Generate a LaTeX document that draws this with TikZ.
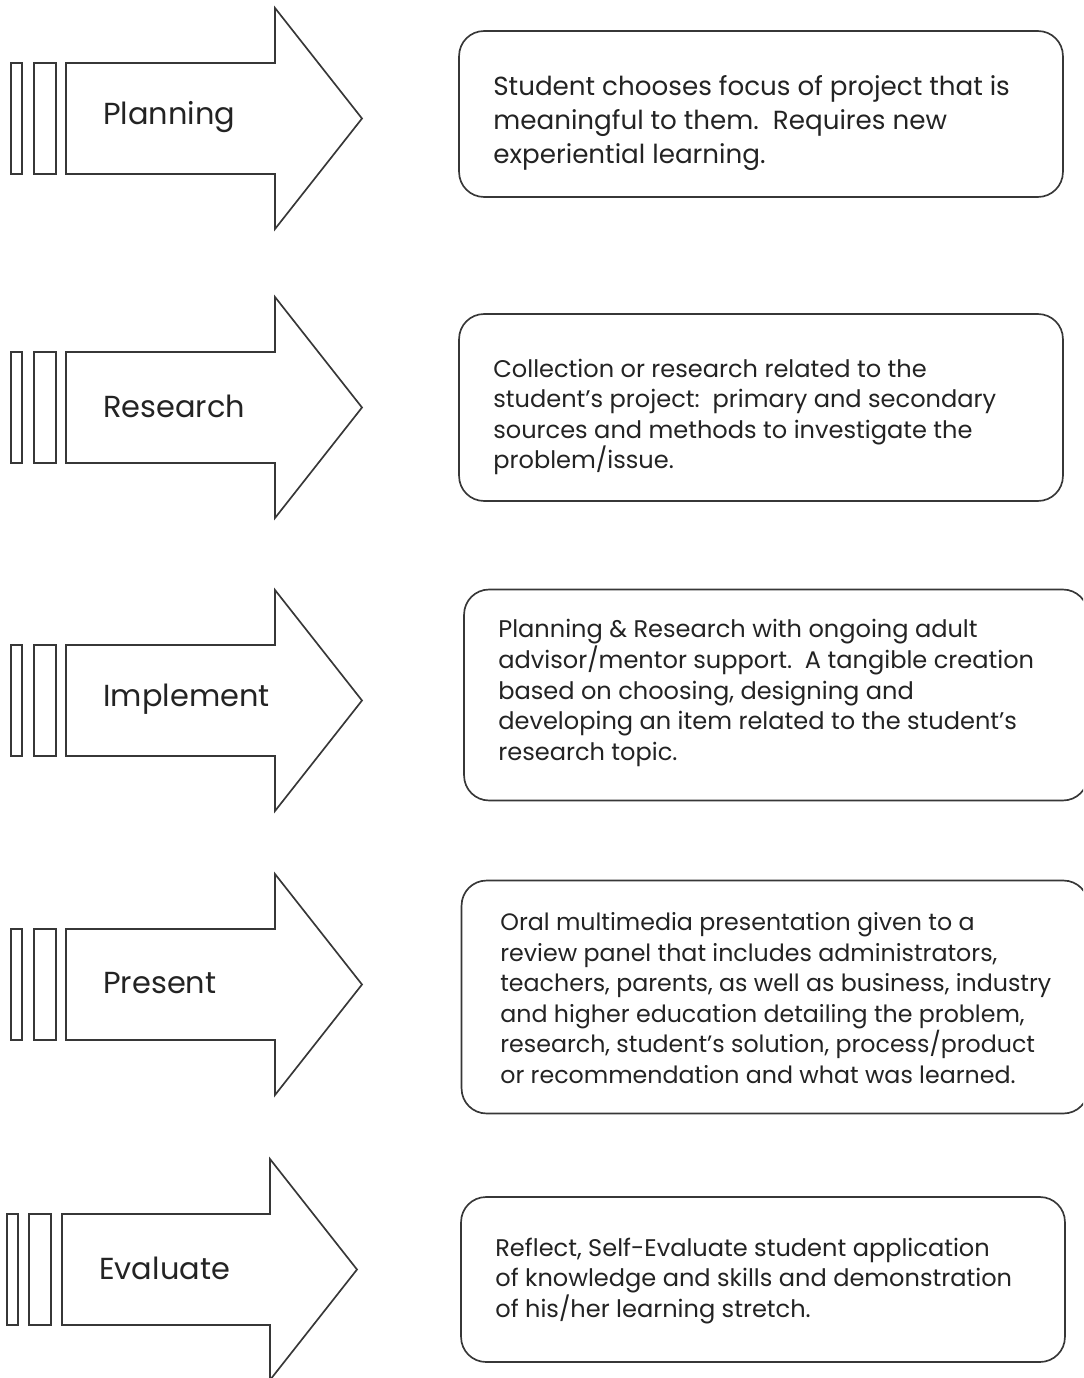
\documentclass[tikz,border=0pt]{standalone}
\usepackage{fontspec}
\setmainfont{Poppins}
\definecolor{ink}{RGB}{35,35,35}
\definecolor{edge}{RGB}{55,55,55}
\usepackage{tikz}
\usetikzlibrary{positioning}

\begin{document}
\begin{tikzpicture}[x=0.02cm, y=-0.02cm,
    outline/.style={draw=edge, line width=0.95pt, line join=miter},
    panel/.style={draw=edge, line width=0.95pt, rounded corners=0.5cm, inner sep=0pt},
    stage/.style={font=\fontsize{17.3}{19}\selectfont, text=ink, anchor=west, inner sep=0pt},
    blurb/.style={font=\fontsize{13.7}{17.4}\selectfont, text=ink, anchor=west, align=left, inner sep=0pt}]
  \clip (0,0) rectangle (1083,1378);

  % planning
  \draw[outline] (11,63) rectangle (22,174);
  \draw[outline] (34,63) rectangle (56,174);
  \draw[outline] (66,63) -- (275,63) -- (275,8) -- (362,118.5) -- (275,229) -- (275,174) -- (66,174) -- cycle;
  \node[stage] (planning) at (103,117) {Planning};
  \node[panel, minimum width=12.08cm, minimum height=3.32cm] (p1) at (761,114) {};
  \node[blurb, font=\fontsize{14.9}{19.4}\selectfont] (t1) at (493,123)
    {Student chooses focus of project that is\\meaningful to them.\ \ Requires new\\experiential learning.};

  % research
  \draw[outline] (11,352) rectangle (22,463);
  \draw[outline] (34,352) rectangle (56,463);
  \draw[outline] (66,352) -- (275,352) -- (275,297) -- (362,407.5) -- (275,518) -- (275,463) -- (66,463) -- cycle;
  \node[stage] (research) at (103,406) {Research};
  \node[panel, minimum width=12.08cm, minimum height=3.74cm] (p2) at (761,407.5) {};
  \node[blurb] (t2) at (493,417)
    {Collection or research related to the\\student's project:\ \ primary and secondary\\sources and methods to investigate the\\problem/issue.};

  % implement
  \draw[outline] (11,645) rectangle (22,756);
  \draw[outline] (34,645) rectangle (56,756);
  \draw[outline] (66,645) -- (275,645) -- (275,590) -- (362,700.5) -- (275,811) -- (275,756) -- (66,756) -- cycle;
  \node[stage] (implement) at (103,699) {Implement};
  \node[panel, minimum width=12.48cm, minimum height=4.22cm] (p3) at (776,695) {};
  \node[blurb] (t3) at (498,693)
    {Planning \& Research with ongoing adult\\advisor/mentor support.\ \ A tangible creation\\based on choosing, designing and\\developing an item related to the student's\\research topic.};

  % present
  \draw[outline] (11,929) rectangle (22,1040);
  \draw[outline] (34,929) rectangle (56,1040);
  \draw[outline] (66,929) -- (275,929) -- (275,874) -- (362,984.5) -- (275,1095) -- (275,1040) -- (66,1040) -- cycle;
  \node[stage] (present) at (103,983) {Present};
  \node[panel, minimum width=12.54cm, minimum height=4.66cm] (p4) at (775,997) {};
  \node[blurb, font=\fontsize{13.5}{17.4}\selectfont] (t4) at (500,998)
    {Oral multimedia presentation given to a\\review panel that includes administrators,\\teachers, parents, as well as business, industry\\and higher education detailing the problem,\\research, student's solution, process/product\\or recommendation and what was learned.};

  % evaluate
  \draw[outline] (7,1214) rectangle (18,1325);
  \draw[outline] (29,1214) rectangle (51,1325);
  \draw[outline] (62,1214) -- (270,1214) -- (270,1159) -- (357,1269.5) -- (270,1380) -- (270,1325) -- (62,1325) -- cycle;
  \node[stage] (evaluate) at (99,1268) {Evaluate};
  \node[panel, minimum width=12.08cm, minimum height=3.3cm] (p5) at (763,1279.5) {};
  \node[blurb] (t5) at (495,1281)
    {Reflect, Self-Evaluate student application\\of knowledge and skills and demonstration\\of his/her learning stretch.};
\end{tikzpicture}
\end{document}
